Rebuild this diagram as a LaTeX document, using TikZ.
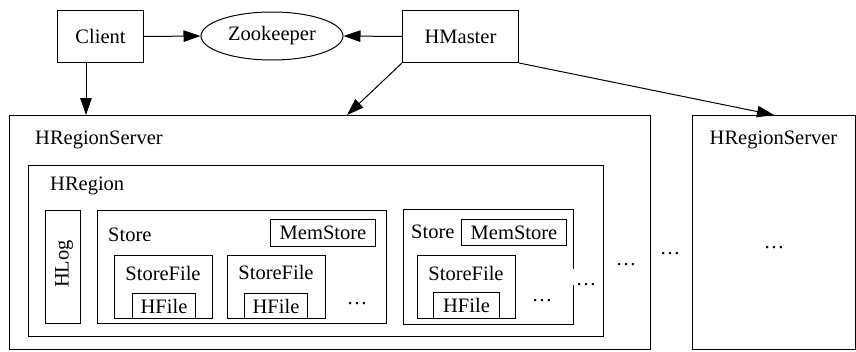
\documentclass[tikz,border=0pt]{standalone}
\usepackage{fontspec}
\setmainfont{Liberation Serif}
\usetikzlibrary{arrows.meta,shapes.geometric,calc}
\newcommand{\fz}{\fontsize{20.5}{24}\selectfont}
\begin{document}
\begin{tikzpicture}[x=1pt,y=-1pt,
  box/.style={draw,line width=1pt,rectangle,inner sep=0,anchor=north west,font=\fz},
  lbl/.style={inner sep=0,anchor=base,font=\fz},
  lblw/.style={inner sep=0,anchor=base west,font=\fz},
  arr/.style={line width=1pt,-{Triangle[length=17pt,width=11.5pt]}},
]
\useasboundingbox (0,0) rectangle (856,351);
% top row
\node[box,minimum width=86pt,minimum height=52pt] (cl) at (57,10) {Client};
\node[box,minimum width=116pt,minimum height=52pt] (hm) at (402,10) {HMaster};
\node[draw,line width=1pt,ellipse,inner sep=0,minimum width=142pt,minimum height=48pt,font=\fz] (zk) at (272,36) {Zookeeper};
% region servers
\node[box,minimum width=641pt,minimum height=234pt] (hrs1) at (9,115) {};
\node[lblw] (hrs1t) at (35,144) {HRegionServer};
\node[box,minimum width=163pt,minimum height=234pt] (hrs2) at (692,115) {};
\node[lbl] (hrs2t) at (773.5,144) {HRegionServer};
\node[lbl] (hrs2d) at (774,248) {\dots};
% region
\node[box,minimum width=575pt,minimum height=171pt] (hr) at (28,165) {};
\node[lblw] (hrt) at (50,190) {HRegion};
\node[box,minimum width=35pt,minimum height=113pt] (hlog) at (45,210) {};
\node[inner sep=0,rotate=90,font=\fz] (hlogt) at (64,264) {HLog};
% store 1
\node[box,minimum width=289pt,minimum height=113pt] (st1) at (97,210) {};
\node[lblw] (st1t) at (108,241) {Store};
\node[box,minimum width=105pt,minimum height=27pt] (ms1) at (270,219) {MemStore};
\node[box,minimum width=98pt,minimum height=63pt] (sf1) at (114,255) {};
\node[lbl] (sf1t) at (163,280) {StoreFile};
\node[box,minimum width=63pt,minimum height=25pt] (hf1) at (132,293) {HFile};
\node[box,minimum width=98pt,minimum height=63pt] (sf2) at (227,255) {};
\node[lbl] (sf2t) at (276,279) {StoreFile};
\node[box,minimum width=63pt,minimum height=25pt] (hf2) at (244,293) {HFile};
\node[lbl] (st1d) at (357,304) {\dots};
% store 2
\node[box,minimum width=170pt,minimum height=115pt] (st2) at (403,209) {};
\node[lblw] (st2t) at (411,238) {Store};
\node[box,minimum width=105pt,minimum height=26pt] (ms2) at (461,219) {MemStore};
\node[box,minimum width=98pt,minimum height=63pt] (sf3) at (417,255) {};
\node[lbl] (sf3t) at (466,280) {StoreFile};
\node[box,minimum width=66pt,minimum height=26pt] (hf3) at (433,292) {HFile};
\node[lbl] (st2d) at (542,301) {\dots};
\node[lbl,fill=white,inner xsep=5pt,inner ysep=0pt,text height=16pt,text depth=0pt] (st2g) at (586,285) {\dots};
% gaps
\node[lbl] (hrd) at (626,265) {\dots};
\node[lbl] (hrsd) at (670,254) {\dots};
% connectors
\draw[arr] (cl.east) -- (zk.west);
\draw[arr] (hm.west) -- (zk.east);
\coordinate (c1) at ($(cl.south west)+(29,0)$);
\draw[arr] (c1) -- (c1 |- hrs1.north);
\coordinate (t1) at ($(hrs1.north west)+(338,0)$);
\draw[arr] (hm.south west) -- (t1);
\draw[arr] (hm.south east) -- (hrs2.north);
\end{tikzpicture}
\end{document}
